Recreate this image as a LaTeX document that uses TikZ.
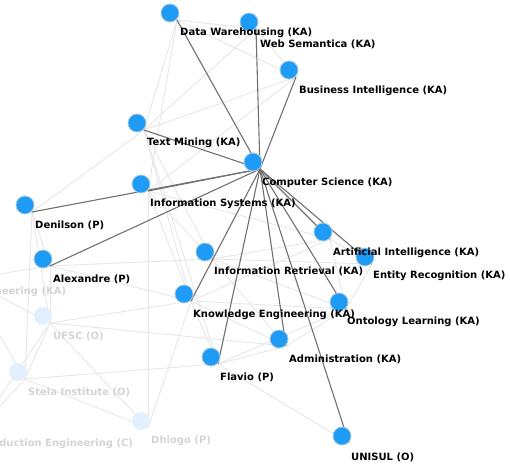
\documentclass[tikz,border=0pt]{standalone}
\usepackage{fontspec}
\setmainfont{DejaVu Sans}
\definecolor{dotblue}{RGB}{30,155,245}
\definecolor{dothalo}{RGB}{170,200,225}
\definecolor{fadeblue}{RGB}{225,240,252}
\definecolor{fadetext}{RGB}{212,212,212}
\definecolor{strong}{RGB}{112,112,112}
\definecolor{weak}{RGB}{230,230,230}
\tikzset{
  vertex/.style={circle, fill=dotblue, draw=dothalo, line width=0.8pt, minimum size=18pt, inner sep=0pt},
  ghost/.style={circle, fill=fadeblue, minimum size=18pt, inner sep=0pt},
  lbl/.style={anchor=west, inner sep=0pt, font=\bfseries\fontsize{10}{11}\selectfont},
  ghostlbl/.style={lbl, text=fadetext},
  link/.style={draw=strong, line width=1.1pt},
  faint/.style={draw=weak, line width=0.9pt}
}
\begin{document}
\begin{tikzpicture}[x=1pt,y=-1pt]
    \useasboundingbox (0,0) rectangle (510,466);
    \clip (0,0) rectangle (510,466);
    % end points of the edges
    \coordinate (dw)    at (177, 20);
    \coordinate (ws)    at (256, 29);
    \coordinate (bi)    at (296, 77);
    \coordinate (tm)    at (144,130);
    \coordinate (cs)    at (260,169);
    \coordinate (is)    at (148,191);
    \coordinate (den)   at ( 32,212);
    \coordinate (ai)    at (330,239);
    \coordinate (er)    at (372,264);
    \coordinate (alx)   at ( 50,266);
    \coordinate (ir)    at (212,259);
    \coordinate (ke)    at (191,301);
    \coordinate (ol)    at (346,309);
    \coordinate (adm)   at (286,346);
    \coordinate (fla)   at (218,364);
    \coordinate (uni)   at (349,443);
    \coordinate (ufsc)  at ( 50,323);
    \coordinate (stela) at ( 25,379);
    \coordinate (dhi)   at (148,428);
    \coordinate (swe)   at (-33,279);
    \coordinate (pe)    at (-23,431);
    % background network
    \draw[faint] (dw) -- (tm);  \draw[faint] (dw) -- (is);  \draw[faint] (dw) -- (bi);
    \draw[faint] (dw) -- (ws);  \draw[faint] (ws) -- (tm);  \draw[faint] (ws) -- (bi);
    \draw[faint] (bi) -- (tm);  \draw[faint] (bi) -- (is);  \draw[faint] (tm) -- (ir);
    \draw[faint] (tm) -- (ke);  \draw[faint] (tm) -- (fla); \draw[faint] (tm) -- (den);
    \draw[faint] (is) -- (ir);  \draw[faint] (is) -- (ke);  \draw[faint] (is) -- (ai);
    \draw[faint] (den) -- (alx); \draw[faint] (den) -- (ufsc); \draw[faint] (den) -- (stela);
    \draw[faint] (alx) -- (ufsc); \draw[faint] (alx) -- (ke); \draw[faint] (alx) -- (ir);
    \draw[faint] (ufsc) -- (stela); \draw[faint] (ufsc) -- (dhi); \draw[faint] (ufsc) -- (ke);
    \draw[faint] (ufsc) -- (adm); \draw[faint] (stela) -- (dhi); \draw[faint] (stela) -- (fla);
    \draw[faint] (dhi) -- (is);  \draw[faint] (dhi) -- (ke);  \draw[faint] (ir) -- (ai);
    \draw[faint] (ir) -- (ol);  \draw[faint] (ir) -- (er);  \draw[faint] (ke) -- (ol);
    \draw[faint] (ke) -- (adm); \draw[faint] (ke) -- (fla); \draw[faint] (fla) -- (adm);
    \draw[faint] (fla) -- (uni); \draw[faint] (adm) -- (ol); \draw[faint] (ai) -- (er);
    \draw[faint] (ai) -- (ol);  \draw[faint] (er) -- (ol);  \draw[faint] (fla) -- (ol);
    \draw[faint] (ir) -- (adm); \draw[faint] (ke) -- (ai);
    \draw[faint] (swe) -- (ufsc); \draw[faint] (swe) -- (alx); \draw[faint] (swe) -- (stela);
    \draw[faint] (pe) -- (ufsc); \draw[faint] (pe) -- (stela);
    % links of Computer Science
    \draw[link] (cs) -- (dw);  \draw[link] (cs) -- (ws);  \draw[link] (cs) -- (bi);
    \draw[link] (cs) -- (tm);  \draw[link] (cs) -- (is);  \draw[link] (cs) -- (den);
    \draw[link] (cs) -- (alx); \draw[link] (cs) -- (ke);  \draw[link] (cs) -- (fla);
    \draw[link] (cs) -- (adm); \draw[link] (cs) -- (uni); \draw[link] (cs) -- (ol);
    \draw[link] (cs) -- (ai);  \draw[link] (cs) -- (er);
    % faded vertices
    \node[ghost] (ufsc-dot)  at ([shift={(-7,-7)}]ufsc)  {};
    \node[ghost] (stela-dot) at ([shift={(-7,-7)}]stela) {};
    \node[ghost] (dhi-dot)   at ([shift={(-7,-7)}]dhi)   {};
    \node[ghostlbl] (swe-lbl)   at ([shift={(3,13)}]swe)   {Engineering (KA)};
    \node[ghostlbl] (ufsc-lbl)  at ([shift={(3,13)}]ufsc)  {UFSC (O)};
    \node[ghostlbl] (stela-lbl) at ([shift={(3,13)}]stela) {Stela Institute (O)};
    \node[ghostlbl] (dhi-lbl)   at ([shift={(3,13)}]dhi)   {Dhiogo (P)};
    \node[ghostlbl] (pe-lbl)    at ([shift={(3,13)}]pe)    {Production Engineering (C)};
    % vertices
    \node[vertex] (dw-dot)  at ([shift={(-7,-7)}]dw)  {};
    \node[vertex] (ws-dot)  at ([shift={(-7,-7)}]ws)  {};
    \node[vertex] (bi-dot)  at ([shift={(-7,-7)}]bi)  {};
    \node[vertex] (tm-dot)  at ([shift={(-7,-7)}]tm)  {};
    \node[vertex] (cs-dot)  at ([shift={(-7,-7)}]cs)  {};
    \node[vertex] (is-dot)  at ([shift={(-7,-7)}]is)  {};
    \node[vertex] (den-dot) at ([shift={(-7,-7)}]den) {};
    \node[vertex] (ai-dot)  at ([shift={(-7,-7)}]ai)  {};
    \node[vertex] (er-dot)  at ([shift={(-7,-7)}]er)  {};
    \node[vertex] (alx-dot) at ([shift={(-7,-7)}]alx) {};
    \node[vertex] (ir-dot)  at ([shift={(-7,-7)}]ir)  {};
    \node[vertex] (ke-dot)  at ([shift={(-7,-7)}]ke)  {};
    \node[vertex] (ol-dot)  at ([shift={(-7,-7)}]ol)  {};
    \node[vertex] (adm-dot) at ([shift={(-7,-7)}]adm) {};
    \node[vertex] (fla-dot) at ([shift={(-7,-7)}]fla) {};
    \node[vertex] (uni-dot) at ([shift={(-7,-7)}]uni) {};
    % labels
    \node[lbl] (dw-lbl)  at ([shift={(3,13)}]dw)  {Data Warehousing (KA)};
    \node[lbl] (ws-lbl)  at ([shift={(4,15)}]ws)  {Web Semantica (KA)};
    \node[lbl] (bi-lbl)  at ([shift={(3,14)}]bi)  {Business Intelligence (KA)};
    \node[lbl] (tm-lbl)  at ([shift={(3,13)}]tm)  {Text Mining (KA)};
    \node[lbl] (cs-lbl)  at ([shift={(2,14)}]cs)  {Computer Science (KA)};
    \node[lbl] (is-lbl)  at ([shift={(2,13)}]is)  {Information Systems (KA)};
    \node[lbl] (den-lbl) at ([shift={(3,13)}]den) {Denilson (P)};
    \node[lbl] (ai-lbl)  at ([shift={(3,14)}]ai)  {Artificial Intelligence (KA)};
    \node[lbl] (er-lbl)  at ([shift={(1,12)}]er)  {Entity Recognition (KA)};
    \node[lbl] (alx-lbl) at ([shift={(3,13)}]alx) {Alexandre (P)};
    \node[lbl] (ir-lbl)  at ([shift={(2,12)}]ir)  {Information Retrieval (KA)};
    \node[lbl] (ke-lbl)  at ([shift={(2,14)}]ke)  {Knowledge Engineering (KA)};
    \node[lbl] (ol-lbl)  at ([shift={(1,13)}]ol)  {Ontology Learning (KA)};
    \node[lbl] (adm-lbl) at ([shift={(3,13)}]adm) {Administration (KA)};
    \node[lbl] (fla-lbl) at ([shift={(2,13)}]fla) {Flavio (P)};
    \node[lbl] (uni-lbl) at ([shift={(2,14)}]uni) {UNISUL (O)};
\end{tikzpicture}
\end{document}
